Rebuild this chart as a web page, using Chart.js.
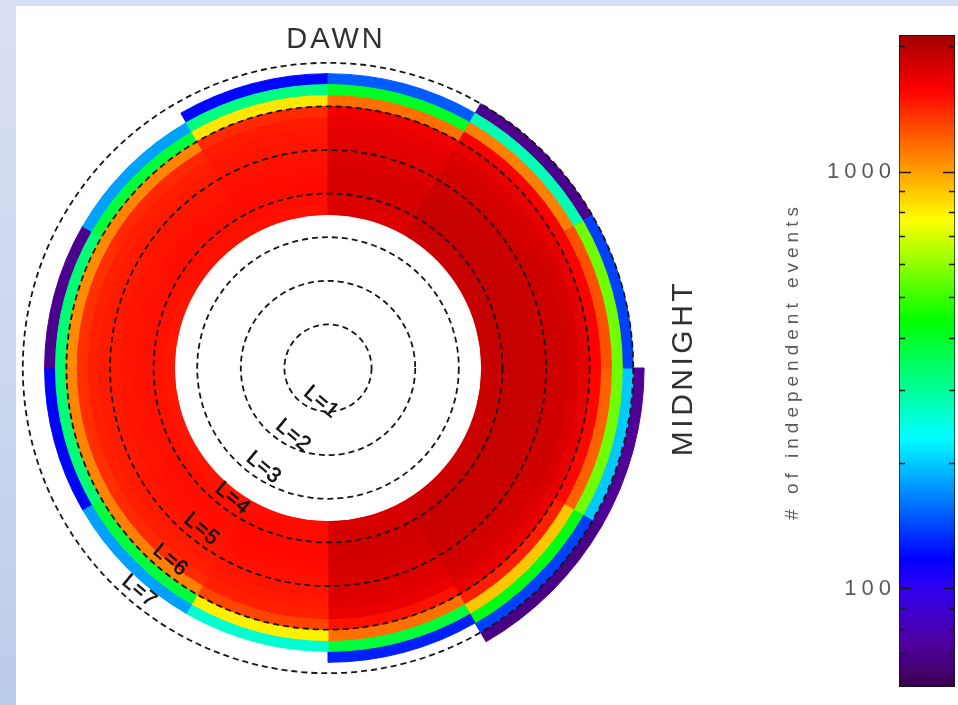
<!DOCTYPE html>
<html>
<head>
<meta charset="utf-8">
<title>Independent events by L-shell and MLT</title>
<script src="https://cdn.jsdelivr.net/npm/chart.js@4.4.1/dist/chart.umd.min.js"></script>
<style>
  html, body { margin: 0; padding: 0; }
  body {
    width: 958px; height: 705px; overflow: hidden; position: relative;
    background: linear-gradient(180deg, #d9dff2 0%, #ccd7ef 55%, #bacbe9 100%);
  }
  #panel { position: absolute; left: 16px; top: 6px; right: 0; bottom: 0; background: #fff; }
  #dialBox { position: absolute; left: 0; top: 0; width: 760px; height: 705px; }
  #barBox { position: absolute; left: 760px; top: 0; width: 198px; height: 705px; }
</style>
</head>
<body>
<div id="panel"></div>
<div id="dialBox"><canvas id="dial"></canvas></div>
<div id="barBox"><canvas id="cbar"></canvas></div>
<script>
// ---- data -------------------------------------------------------------
// L-shell bin edges (0.25 wide); below the first edge there is no coverage
const lEdges = [3.5, 3.75, 4.0, 4.25, 4.5, 4.75, 5.0, 5.25, 5.5, 5.75, 6.0, 6.25, 6.5, 6.75, 7.0, 7.25];
// dashed reference shells
const lGrid = [1, 2, 3, 4, 5, 6, 7];
// 2-hour magnetic local time sectors
const mltSectors = ['00-02', '02-04', '04-06', '06-08', '08-10', '10-12',
                    '12-14', '14-16', '16-18', '18-20', '20-22', '22-24'];

// number of independent events per L bin, innermost bin first (null = no data)
const mlt00 = [1880, 1900, 1900, 1890, 1870, 1860, 1850, 1830, 1790, 1720, 1580, 1260, 560, 140, null];
const mlt02 = [1860, 1880, 1900, 1890, 1870, 1850, 1830, 1800, 1760, 1700, 1600, 1100, 280, 70, null];
const mlt04 = [1760, 1780, 1800, 1790, 1770, 1760, 1740, 1720, 1690, 1640, 1150, 400, 150, null, null];
const mlt06 = [1500, 1520, 1530, 1520, 1510, 1500, 1490, 1480, 1460, 1400, 820, 320, 120, null, null];
const mlt08 = [1500, 1510, 1520, 1510, 1490, 1480, 1470, 1450, 1410, 1080, 380, 180, null, null, null];
const mlt10 = [1480, 1500, 1510, 1500, 1490, 1470, 1460, 1440, 1380, 1060, 330, 70, null, null, null];
const mlt12 = [1480, 1500, 1510, 1500, 1490, 1470, 1460, 1440, 1380, 1080, 330, 118, null, null, null];
const mlt14 = [1490, 1510, 1520, 1510, 1500, 1480, 1470, 1450, 1400, 1100, 380, 180, null, null, null];
const mlt16 = [1520, 1530, 1540, 1530, 1520, 1500, 1490, 1470, 1440, 1300, 800, 260, null, null, null];
const mlt18 = [1780, 1800, 1820, 1810, 1800, 1780, 1760, 1730, 1680, 1500, 1150, 380, 128, null, null];
const mlt20 = [1840, 1860, 1880, 1870, 1860, 1850, 1830, 1800, 1760, 1680, 1450, 900, 420, 140, 68];
const mlt22 = [1860, 1880, 1900, 1890, 1870, 1860, 1840, 1820, 1780, 1700, 1550, 1200, 560, 200, 72];

// colour bar range and ticks
const countMin = 58;
const countMax = 2130;
const cbarTicks = [60, 70, 80, 90, 100, 200, 300, 400, 500, 600, 700, 800, 900, 1000, 2000];
const cbarLabels = [100, 1000];

// rainbow colour table, interpolated in log(count)
const cmapValues = [58, 74, 100, 118, 165, 230, 320, 440, 580, 766, 1000, 1260, 1575, 2130];
const cmapColors = ['#3c0050', '#5000a0', '#3000f0', '#0000ff', '#0080ff', '#00ffff', '#00ff80',
                    '#00ff00', '#80ff00', '#ffff00', '#ffa000', '#ff5000', '#ff0000', '#a00000'];

// ---- helpers ----------------------------------------------------------
const sectorCounts = [mlt00, mlt02, mlt04, mlt06, mlt08, mlt10, mlt12, mlt14, mlt16, mlt18, mlt20, mlt22];

function hexRgb(h) {
  return [parseInt(h.slice(1, 3), 16), parseInt(h.slice(3, 5), 16), parseInt(h.slice(5, 7), 16)];
}
function countColor(v) {
  const lv = Math.log10(Math.min(Math.max(v, cmapValues[0]), cmapValues[cmapValues.length - 1]));
  for (let i = 0; i < cmapValues.length - 1; i++) {
    const a = Math.log10(cmapValues[i]), b = Math.log10(cmapValues[i + 1]);
    if (lv <= b) {
      const t = (lv - a) / (b - a);
      const c0 = hexRgb(cmapColors[i]), c1 = hexRgb(cmapColors[i + 1]);
      const c = c0.map((x, j) => Math.round(x + (c1[j] - x) * t));
      return `rgb(${c[0]},${c[1]},${c[2]})`;
    }
  }
  return cmapColors[cmapColors.length - 1];
}

Chart.defaults.font.family = '"Liberation Sans", Arial, Helvetica, sans-serif';

// arcs run clockwise from midnight (right), so MLT decreases along the data order
const arcOrder = mltSectors.map((_, i) => mltSectors.length - 1 - i);

const dialSets = [{
  label: 'no coverage',
  data: arcOrder.map(() => lEdges[0]),
  backgroundColor: '#ffffff',
  borderColor: '#ffffff',
  borderWidth: 1
}];
for (let k = 0; k < lEdges.length - 1; k++) {
  const colors = arcOrder.map(s => {
    const v = sectorCounts[s][k];
    return v == null ? 'rgba(0,0,0,0)' : countColor(v);
  });
  dialSets.push({
    label: `L ${lEdges[k]}-${lEdges[k + 1]}`,
    data: arcOrder.map(() => lEdges[k + 1]),
    backgroundColor: colors,
    borderColor: colors,
    borderWidth: 1
  });
}

// shell labels along the lower-left, plus the DAWN / MIDNIGHT markers
const dialText = {
  id: 'dialText',
  afterDraw(chart) {
    const r = chart.scales.r;
    const ctx = chart.ctx;
    const xc = r.xCenter, yc = r.yCenter;
    const th = 230 * Math.PI / 180;
    ctx.save();
    ctx.fillStyle = '#111';
    ctx.strokeStyle = '#111';
    ctx.lineWidth = 0.6;
    ctx.font = '21px "Liberation Sans", Arial, sans-serif';
    ctx.letterSpacing = '1px';
    ctx.textAlign = 'center';
    ctx.textBaseline = 'middle';
    lGrid.forEach(L => {
      const d = r.getDistanceFromCenterForValue(L);
      ctx.save();
      ctx.translate(xc + d * Math.cos(th), yc - d * Math.sin(th));
      ctx.rotate(40 * Math.PI / 180);
      const ax = Math.min(27 - 4 * L, 17);
      ctx.fillText('L=' + L, ax, -13);
      ctx.strokeText('L=' + L, ax, -13);
      ctx.restore();
    });
    const rOut = r.getDistanceFromCenterForValue(7);
    ctx.fillStyle = '#303030';
    ctx.font = '29px "Liberation Sans", Arial, sans-serif';
    ctx.letterSpacing = '3px';
    ctx.textBaseline = 'alphabetic';
    ctx.fillText('DAWN', xc + 8, yc - rOut - 15);
    ctx.save();
    ctx.translate(xc + rOut + 59, yc);
    ctx.rotate(-Math.PI / 2);
    ctx.font = '30px "Liberation Sans", Arial, sans-serif';
    ctx.letterSpacing = '3.5px';
    ctx.fillText('MIDNIGHT', 0, 0);
    ctx.restore();
    ctx.restore();
  }
};

new Chart(document.getElementById('dial'), {
  type: 'polarArea',
  data: { labels: arcOrder.map(s => mltSectors[s]), datasets: dialSets },
  options: {
    responsive: true,
    maintainAspectRatio: false,
    animation: false,
    events: [],
    layout: { padding: { left: 1, top: 41, right: 105, bottom: 10 } },
    plugins: { legend: { display: false }, tooltip: { enabled: false } },
    scales: {
      r: {
        min: 0,
        max: 7.5,
        startAngle: 90,
        afterBuildTicks: s => { s.ticks = [0].concat(lGrid).map(v => ({ value: v })); },
        ticks: { display: false },
        pointLabels: { display: false },
        angleLines: { display: false },
        grid: { circular: true, color: '#161616', lineWidth: 1.8, z: 1 },
        border: { dash: [6, 4] }
      }
    }
  },
  plugins: [dialText]
});

// ---- colour bar -------------------------------------------------------
function barGradient(context) {
  const chart = context.chart;
  const area = chart.chartArea;
  const y = chart.scales.y;
  if (!area || !y) return cmapColors[6];
  const g = chart.ctx.createLinearGradient(0, area.bottom, 0, area.top);
  cmapValues.forEach((v, i) => {
    const f = (area.bottom - y.getPixelForValue(v)) / (area.bottom - area.top);
    g.addColorStop(Math.min(Math.max(f, 0), 1), cmapColors[i]);
  });
  return g;
}

const cbarMarks = {
  id: 'cbarMarks',
  beforeDraw(chart) { chart.ctx.letterSpacing = '5px'; },
  afterDatasetsDraw(chart) {
    const y = chart.scales.y, a = chart.chartArea, ctx = chart.ctx;
    ctx.save();
    ctx.strokeStyle = '#1a1a1a';
    ctx.lineWidth = 1.5;
    cbarTicks.forEach(v => {
      const py = Math.round(y.getPixelForValue(v)) + 0.5;
      const len = cbarLabels.includes(v) ? 12 : 6;
      ctx.beginPath();
      ctx.moveTo(a.left, py); ctx.lineTo(a.left + len, py);
      ctx.moveTo(a.right, py); ctx.lineTo(a.right - len, py);
      ctx.stroke();
    });
    ctx.restore();
  }
};

new Chart(document.getElementById('cbar'), {
  type: 'bar',
  data: {
    labels: ['events'],
    datasets: [{
      data: [[countMin, countMax]],
      backgroundColor: barGradient,
      borderColor: '#111',
      borderWidth: 1,
      borderSkipped: false,
      barPercentage: 1,
      categoryPercentage: 1
    }]
  },
  options: {
    responsive: true,
    maintainAspectRatio: false,
    animation: false,
    events: [],
    layout: { padding: { top: 35, bottom: 18, left: 0, right: 3 } },
    plugins: { legend: { display: false }, tooltip: { enabled: false } },
    scales: {
      x: { display: false },
      y: {
        type: 'logarithmic',
        position: 'left',
        min: countMin,
        max: countMax,
        afterBuildTicks: s => { s.ticks = cbarTicks.map(v => ({ value: v })); },
        afterFit: s => { s.width = 139; },
        grid: { display: false },
        border: { display: false },
        ticks: {
          autoSkip: false,
          padding: -5,
          color: '#5a5a5a',
          font: { size: 22 },
          callback: v => (cbarLabels.includes(v) ? String(v) : '')
        },
        title: {
          display: true,
          text: '# of independent events',
          color: '#5a5a5a',
          font: { size: 19 },
          padding: { top: 21, bottom: 0 }
        }
      }
    }
  },
  plugins: [cbarMarks]
});
</script>
</body>
</html>
